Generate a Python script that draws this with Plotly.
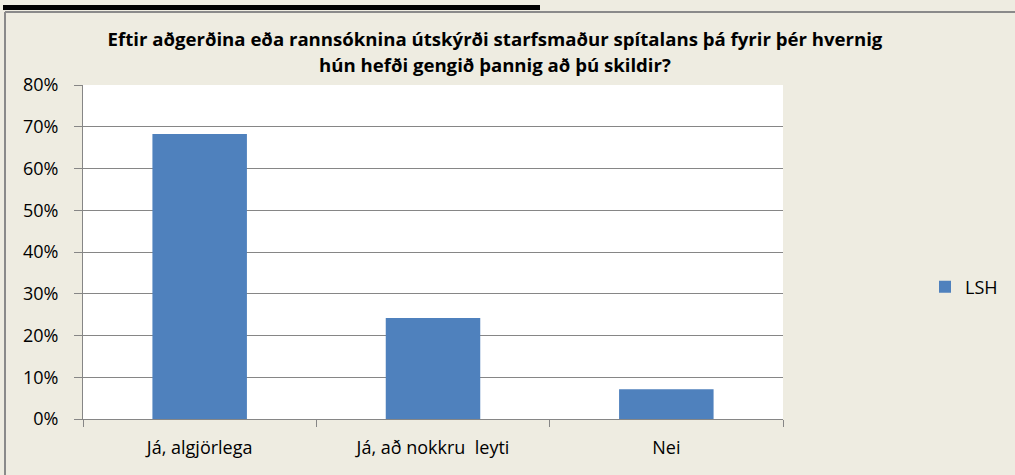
import plotly.graph_objects as go

categories = ["Já, algjörlega", "Já, að nokkru  leyti", "Nei"]
values = [0.6825, 0.242, 0.071]
series_name = "LSH"
title_line1 = "Eftir aðgerðina eða rannsóknina útskýrði starfsmaður spítalans þá fyrir þér hvernig"
title_line2 = "hún hefði gengið þannig að þú skildir?"
y_ticks = [0, 0.1, 0.2, 0.3, 0.4, 0.5, 0.6, 0.7, 0.8]
y_tick_labels = ["0%", "10%", "20%", "30%", "40%", "50%", "60%", "70%", "80%"]

W, H = 1015, 475
L, R, T, B = 83, 783, 85, 419

FONT = "Open Sans, Calibri, sans-serif"
GRID = "#868686"

fig = go.Figure()
fig.add_trace(go.Bar(x=categories, y=values, name=series_name,
                     marker=dict(color="#4F81BD", line=dict(width=0)),
                     showlegend=True))

def px(x):
    return (x - L) / (R - L)

def py(y):
    return (B - y) / (B - T)

shapes = [
    dict(type="rect", xref="paper", yref="paper", x0=px(3), x1=px(540), y0=py(10), y1=py(5),
         fillcolor="black", line=dict(width=0), layer="above"),
    dict(type="line", xref="paper", yref="paper", x0=px(5), x1=px(1016), y0=py(12), y1=py(12),
         line=dict(color="#8a8a8a", width=2), layer="above"),
    dict(type="line", xref="paper", yref="paper", x0=px(5), x1=px(5), y0=py(12), y1=py(476),
         line=dict(color="#8a8a8a", width=2), layer="above"),
]

TS = 18.6
fig.update_layout(
    width=W, height=H,
    margin=dict(l=L, r=W - R, t=T, b=H - B, autoexpand=False),
    paper_bgcolor="#EEECE1",
    plot_bgcolor="white",
    font=dict(family=FONT, size=18, color="black"),
    title=dict(text="<b>" + title_line1 + "</b>",
               x=495 / W, xanchor="center", xref="container",
               y=1 - 39 / H, yanchor="middle", yref="container",
               font=dict(family=FONT, size=TS, color="black")),
    annotations=[dict(text="<b>" + title_line2 + "</b>", xref="paper", yref="paper",
                      x=px(495), y=py(64), xanchor="center", yanchor="middle",
                      showarrow=False, font=dict(family=FONT, size=TS, color="black"))],
    bargap=0.595,
    showlegend=True,
    legend=dict(x=px(925), xanchor="left", y=py(287), yanchor="middle",
                bgcolor="rgba(0,0,0,0)", font=dict(family=FONT, size=18, color="black"),
                itemclick=False),
    shapes=shapes,
    xaxis=dict(type="category", showgrid=False, showline=True, linecolor=GRID, linewidth=1,
               ticks="outside", tickson="boundaries", ticklen=7, tickcolor=GRID,
               tickfont=dict(family=FONT, size=18, color="black"),
               ticklabelstandoff=12, fixedrange=True),
    yaxis=dict(range=[0, 0.8], tickvals=y_ticks, ticktext=y_tick_labels,
               showgrid=True, gridcolor=GRID, gridwidth=1,
               showline=True, linecolor=GRID, linewidth=1,
               ticks="outside", ticklen=8, tickcolor=GRID,
               tickfont=dict(family=FONT, size=18, color="black"),
               ticklabelstandoff=12, zeroline=False, fixedrange=True),
)

fig.write_html("out.html", config={"displayModeBar": False},
               post_script="document.body.style.margin='0';")
